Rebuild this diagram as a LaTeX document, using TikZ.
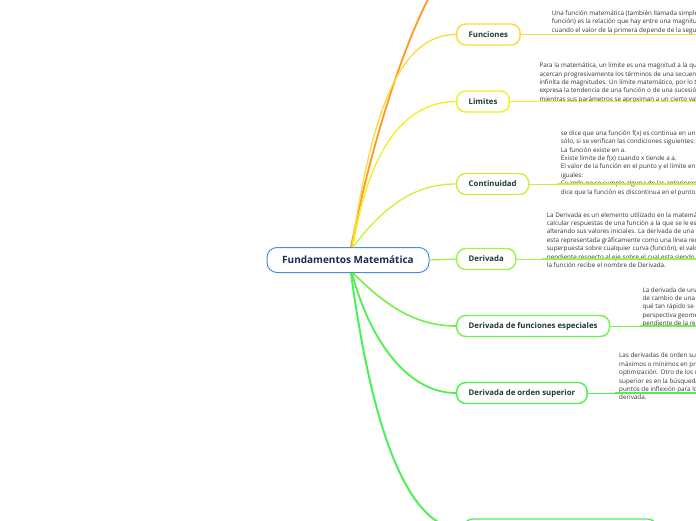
\documentclass[tikz,border=0pt]{standalone}
\usepackage{fontspec}
\setmainfont{Open Sans}
\usetikzlibrary{positioning}

\definecolor{rootblue}{HTML}{4A8FD6}
\definecolor{navy}{HTML}{1B2A56}
\definecolor{nodetext}{HTML}{1A3C34}
\definecolor{notegrey}{HTML}{333333}
\definecolor{orangec}{HTML}{FF9A1E}
\definecolor{goldc}{HTML}{FFD83A}
\definecolor{yellowc}{HTML}{F0F01E}
\definecolor{limec}{HTML}{CCF03A}
\definecolor{lgreen}{HTML}{A2F048}
\definecolor{greena}{HTML}{72F04C}
\definecolor{greenb}{HTML}{4EF04E}
\definecolor{greenc}{HTML}{4EF05A}

\tikzset{
  topic/.style={draw=#1,rounded corners=9pt,line width=1.4pt,fill=white,text=nodetext,
    font=\fontsize{7.8}{9}\selectfont\bfseries,minimum height=21pt,inner xsep=12pt,anchor=west},
  link/.style={draw=#1,line width=1.3pt},
  notetext/.style={font=\fontsize{6.3}{8.4}\selectfont,text=notegrey,align=left,anchor=north west,inner sep=0pt},
  uline/.style={draw=#1,line width=1.6pt}
}

\begin{document}
\begin{tikzpicture}[x=1pt,y=-1pt]
\useasboundingbox[fill=white] (0,0) rectangle (696,520);
\clip (0,0) rectangle (696,520);

% central topic
\node[draw=rootblue,rounded corners=10pt,line width=1pt,fill=white,text=navy,
  font=\fontsize{10}{12}\selectfont\bfseries,minimum width=162pt,minimum height=25pt] (root) at (348,260) {Fundamentos Matemática};

% topics
\node[topic=goldc] (fun) at (456,34.5) {Funciones};
\node[topic=yellowc] (lim) at (456,101.5) {Limites};
\node[topic=limec] (cont) at (456,184) {Continuidad};
\node[topic=lgreen] (der) at (456,259) {Derivada};
\node[topic=greena] (esp) at (456,326) {Derivada de funciones especiales};
\node[topic=greenb] (ord) at (456,393) {Derivada de orden superior};
\node[topic=greenc,minimum width=193pt] (next) at (463,529.5) {};
\coordinate (offtop) at (433,-10);

% connectors
\draw[link=orangec,line width=1.8pt] ([xshift=3pt]root.north) .. controls (372,140) and (405,40) .. (offtop);
\draw[link=goldc] ([xshift=4pt]root.north) .. controls (372,110) and (400,34.5) .. (fun.west);
\draw[link=yellowc] ([xshift=5pt]root.north) .. controls (370,140) and (410,101.5) .. (lim.west);
\draw[link=limec] ([xshift=5pt]root.north) .. controls (385,205) and (415,184) .. (cont.west);
\draw[link=lgreen] (root.east) -- (der.west);
\draw[link=greena,line width=1.6pt] ([xshift=5pt]root.south) .. controls (385,305) and (415,326) .. (esp.west);
\draw[link=greenb,line width=1.8pt] ([xshift=4pt]root.south) .. controls (368,335) and (405,393) .. (ord.west);
\draw[link=greenc,line width=2pt] ([xshift=3pt]root.south) .. controls (368,400) and (400,529.5) .. (next.west);

% notes
\node[notetext] (funnote) at (551.7,10.3) {Una función matemática (también llamada simplemente\\
función) es la relación que hay entre una magnitud y otra,\\
cuando el valor de la primera depende de la segunda.};
\coordinate (funline) at (547.3,34.5);
\draw[link=goldc,line width=0.6pt] (fun.east) -- (funline);
\draw[uline=goldc] (funline) -- ++(160,0);

\node[notetext] (limnote) at (539.3,62.7) {Para la matemática, un límite es una magnitud a la que se\\
acercan progresivamente los términos de una secuencia\\
infinita de magnitudes. Un límite matemático, por lo tanto,\\
expresa la tendencia de una función o de una sucesión\\
mientras sus parámetros se aproximan a un cierto valor.};
\coordinate (limline) at (535.7,101.5);
\draw[link=yellowc,line width=0.6pt] (lim.east) -- (limline);
\draw[uline=yellowc] (limline) -- ++(170,0);

\node[notetext] (contnote) at (560.7,130.3) {se dice que una función f(x) es continua en un punto a si y\\
sólo, si se verifican las condiciones siguientes:\\
La función existe en a.\\
Existe límite de f(x) cuando x tiende a a.\\
El valor de la función en el punto y el límite en dicho punto son\\
iguales:\\
Cuando no se cumple alguna de las anteriores condiciones, se\\
dice que la función es discontinua en el punto.};
\coordinate (contline) at (556.7,184);
\draw[link=limec,line width=0.6pt] (cont.east) -- (contline);
\draw[uline=limec] (contline) -- ++(150,0);

\node[notetext] (dernote) at (546.7,212) {La Derivada es un elemento utilizado en la matemática para\\
calcular respuestas de una función a la que se le están\\
alterando sus valores iniciales. La derivada de una función\\
esta representada gráficamente como una línea recta\\
superpuesta sobre cualquier curva (función), el valor de la\\
pendiente respecto al eje sobre el cual esta siendo estudiada\\
la función recibe el nombre de Derivada.};
\coordinate (derline) at (542,259);
\draw[link=lgreen,line width=0.6pt] (der.east) -- (derline);
\draw[uline=lgreen] (derline) -- ++(160,0);

\node[notetext] (espnote) at (642.3,287) {La derivada de una función\\
de cambio de una función\\
qué tan rápido se está\\
perspectiva geométrica\\
pendiente de la recta};
\coordinate (espline) at (640,326);
\draw[link=greena,line width=0.6pt] (esp.east) -- (espline);
\draw[uline=greena] (espline) -- ++(60,0);

\node[notetext] (ordnote) at (619,353) {Las derivadas de orden superior\\
máximos o mínimos en problemas de\\
optimización. Otro de los usos\\
superior es en la búsqueda de\\
puntos de inflexión para lo cual\\
derivada.};
\coordinate (ordline) at (615,393);
\draw[link=greenb,line width=0.6pt] (ord.east) -- (ordline);
\draw[uline=greenb] (ordline) -- ++(90,0);

\end{tikzpicture}
\end{document}
